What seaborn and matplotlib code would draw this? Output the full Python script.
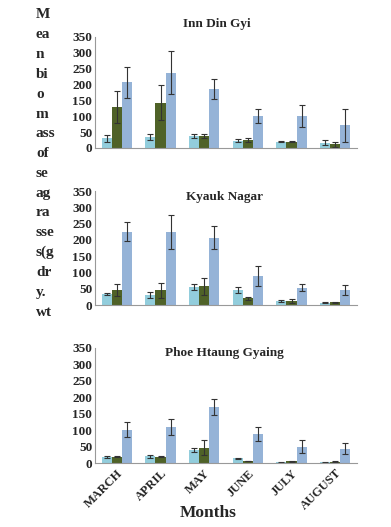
import numpy as np
import pandas as pd
import matplotlib
matplotlib.use("Agg")
import matplotlib.pyplot as plt
import seaborn as sns

sns.set_style("white")
plt.rcParams['font.family'] = ['Liberation Serif', 'DejaVu Serif']

months = ["MARCH", "APRIL", "MAY", "JUNE", "JULY", "AUGUST"]
series = ["s1", "s2", "s3"]
colors = ["#92CDDC", "#4F6228", "#95B3D7"]

# ---------------- DATA ---------------- #
inn_means = [[30, 130, 207], [35, 143, 238], [37, 39, 186],
             [23, 24, 101], [20, 20, 101], [17, 12, 72]]
inn_err = [[10, 50, 48], [10, 56, 68], [7, 6, 30],
           [4, 6, 22], [2, 1, 34], [7, 8, 52]]

kyauk_means = [[34, 46, 225], [31, 46, 224], [56, 57, 207],
               [45, 20, 89], [13, 13, 53], [7, 8, 46]]
kyauk_err = [[3, 17, 30], [8, 23, 53], [10, 26, 35],
             [9, 5, 31], [3, 6, 10], [1, 2, 14]]

phoe_means = [[19, 19, 101], [20, 19, 109], [41, 46, 171],
              [14, 6, 89], [2, 5, 49], [2, 4, 43]]
phoe_err = [[3, 1, 23], [4, 2, 25], [6, 23, 25],
            [2, 1, 22], [1, 1, 20], [2, 1, 17]]

panels = [("Inn Din Gyi", inn_means, inn_err),
          ("Kyauk Nagar", kyauk_means, kyauk_err),
          ("Phoe Htaung Gyaing", phoe_means, phoe_err)]

ylabel_parts = ["M", "ea", "n", "bi", "o", "m", "ass", "of", "se",
                "ag", "ra", "sse", "s(g", "dr", "y.", "wt"]

# ---------------- FIGURE ---------------- #
W, H = 391, 527
fig = plt.figure(figsize=(W / 100, H / 100), dpi=100)

# pixel boxes: (top, bottom) of each plot area, title positions
boxes = [(37, 148), (191, 305), (348, 463)]
title_pos = [(217, 24), (225, 197), (224, 353)]
left_px, right_px = 95, 357

for i, ((name, means, errs), (top, bot)) in enumerate(zip(panels, boxes)):
    ax = fig.add_axes([left_px / W, 1 - bot / H, (right_px - left_px) / W, (bot - top) / H])
    rows = []
    for m, mv, ev in zip(months, means, errs):
        for s, v, e in zip(series, mv, ev):
            rows.append({"month": m, "series": s, "value": v, "err": e})
    df = pd.DataFrame(rows)
    sns.barplot(data=df, x="month", y="value", hue="series", order=months,
                hue_order=series, palette=colors, errorbar=None, width=0.7,
                legend=False, ax=ax, saturation=1, edgecolor="none")
    patches = sorted([p for p in ax.patches], key=lambda p: p.get_x())
    xs = [p.get_x() + p.get_width() / 2 for p in patches]
    ax.errorbar(xs, df["value"], yerr=df["err"], fmt="none", ecolor="#333333",
                elinewidth=0.8, capsize=2.5, capthick=0.8)
    ax.set_xlim(-0.5, 5.5)
    ax.set_ylim(0, 350)
    ax.set_yticks(range(0, 351, 50))
    ax.set_yticklabels([str(t) for t in range(0, 351, 50)], fontsize=9.5, fontweight="bold")
    ax.set_xlabel("")
    ax.set_ylabel("")
    ax.set_xticks(np.arange(-0.5, 6, 1), minor=True)
    ax.tick_params(axis="x", which="minor", length=5, color="#999999", width=0.8, direction="out")
    ax.tick_params(axis="y", length=0, pad=2)
    if i == 2:
        ax.set_xticks(range(6))
        ax.set_xticklabels(months, rotation=45, ha="right", rotation_mode="anchor",
                           fontsize=9, fontweight="bold")
        ax.tick_params(axis="x", which="major", length=0, pad=3)
    else:
        ax.set_xticks([])
    for sp in ["top", "right"]:
        ax.spines[sp].set_visible(False)
    for sp in ["left", "bottom"]:
        ax.spines[sp].set_color("#999999")
        ax.spines[sp].set_linewidth(0.8)
    tx, ty = title_pos[i]
    fig.text(tx / W, 1 - ty / H, name, ha="center", va="center",
             fontsize=9.5, fontweight="bold")

fig.text(208 / W, 1 - 513 / H, "Months", ha="center", va="center",
         fontsize=12.5, fontweight="bold")

for k, part in enumerate(ylabel_parts):
    fig.text(36 / W, 1 - (15 + k * 19.8) / H, part, ha="left", va="center",
             fontsize=11, fontweight="bold")

fig.savefig("out.png", dpi=100)
